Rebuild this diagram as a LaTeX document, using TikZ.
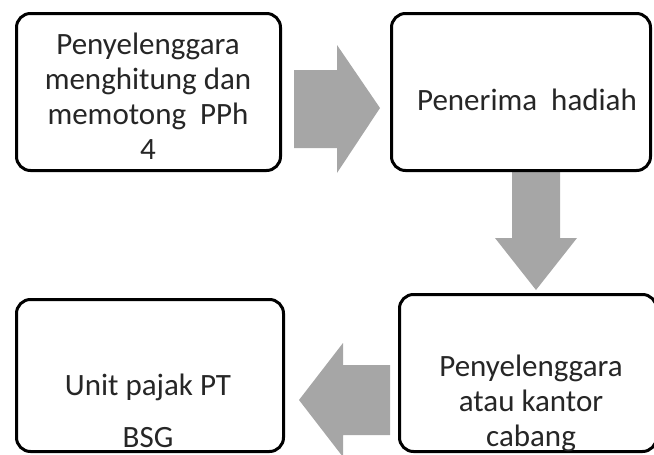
\documentclass[tikz,border=0pt]{standalone}
\usepackage{fontspec}
\setmainfont{Carlito}
\usepackage{tikz}
\usetikzlibrary{positioning, calc}

\begin{document}
\begin{tikzpicture}[
  x=1pt, y=-1pt,
  stage/.style={draw, line width=3pt, rounded corners=14pt, fill=white, inner sep=0pt},
  label/.style={align=center, text=black!85, font=\fontsize{31}{35}\selectfont},
  blockarrow/.style={fill=arrowgray},
]
\definecolor{arrowgray}{RGB}{166,166,166}
\useasboundingbox (0,0) rectangle (654,455);

%% Block arrows
\fill[blockarrow] (294,70) -- (337,70) -- (337,45) -- (380,108) -- (337,173) -- (337,148) -- (294,148) -- cycle;
\fill[blockarrow] (512,170) -- (560,170) -- (560,238) -- (577,238) -- (536,290) -- (495,238) -- (512,238) -- cycle;
\fill[blockarrow] (390,365) -- (343,365) -- (343,343) -- (299,400) -- (343,457) -- (343,435) -- (390,435) -- cycle;

%% Boxes
\node[stage, minimum width=264pt, minimum height=157pt] (hitung) at (148.5,92) {};
\node[stage, minimum width=259pt, minimum height=157pt] (hadiah) at (521,92) {};
\node[stage, minimum width=257pt, minimum height=157pt] (cabang) at (528,373) {};
\node[stage, minimum width=267pt, minimum height=152pt] (unit) at (150,375.5) {};

%% Texts
\node[label] (thitung) at (148,96.5) {Penyelenggara\\menghitung dan\\memotong~~PPh\\4};
\node[label] (thadiah) at (527,100) {Penerima~~hadiah};
\node[label] (tcabang) at (531,403) {Penyelenggara\\atau kantor\\cabang};
\node[label, font=\fontsize{31}{52}\selectfont] (tunit) at (148,411) {Unit~pajak PT\\BSG};

\end{tikzpicture}
\end{document}
